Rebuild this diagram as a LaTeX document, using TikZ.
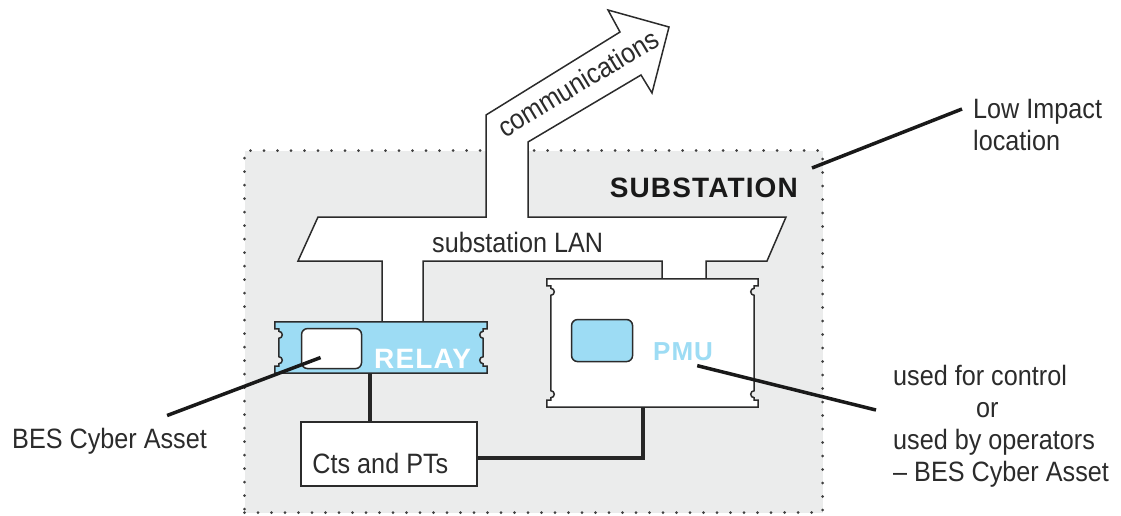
\documentclass[tikz,border=0pt]{standalone}
\usepackage{fontspec}
\setmainfont{Liberation Sans}[FakeStretch=0.9]
\newfontfamily\heavyfont{Liberation Sans}[LetterSpace=4]
\usepackage{tikz}

\definecolor{relayblue}{HTML}{9DDCF4}
\definecolor{subgray}{HTML}{EBECEC}
\definecolor{inkgray}{HTML}{2B2B2B}
\newcommand\lblsize{\fontsize{28}{32}\selectfont}

% notched card outline drawn round an (empty) node
\newcommand\notchcard[2]{%
  \draw[cardline, fill=#2]
    (#1.north west) -- (#1.north east)
    -- ([yshift=-7pt]#1.north east) -- ([shift={(-4pt,-7pt)}]#1.north east)
    -- ([shift={(-4pt,-9.5pt)}]#1.north east)
    arc[start angle=90, end angle=270, radius=3.5pt]
    -- ([shift={(-4pt,16.5pt)}]#1.south east)
    arc[start angle=90, end angle=270, radius=3.5pt]
    -- ([shift={(-4pt,7pt)}]#1.south east) -- ([yshift=7pt]#1.south east)
    -- (#1.south east) -- (#1.south west)
    -- ([yshift=7pt]#1.south west) -- ([shift={(4pt,7pt)}]#1.south west)
    -- ([shift={(4pt,9.5pt)}]#1.south west)
    arc[start angle=-90, end angle=90, radius=3.5pt]
    -- ([shift={(4pt,-16.5pt)}]#1.north west)
    arc[start angle=-90, end angle=90, radius=3.5pt]
    -- ([shift={(4pt,-7pt)}]#1.north west) -- ([yshift=-7pt]#1.north west)
    -- cycle;}

\begin{document}
\begin{tikzpicture}[x=1pt,y=-1pt,
    lbl/.style={inner sep=0pt, text=inkgray, font=\lblsize},
    cardbox/.style={rectangle, inner sep=0pt},
    cardline/.style={draw=inkgray, line width=1.5pt},
    window/.style={draw=inkgray, line width=1.5pt, rounded corners=6pt, inner sep=0pt},
    wire/.style={line width=4pt, draw=black!85},
    leader/.style={line width=3.5pt, draw=black!90}]
    \useasboundingbox (0,0) rectangle (1121,515);

    \node[fill=subgray, draw=black!75, line width=3pt, line cap=round,
          dash pattern=on 0pt off 13.5pt, inner sep=0pt,
          minimum width=578pt, minimum height=362pt, anchor=north west] (sub) at (243,149) {};
    \node[inner sep=0pt, anchor=base east, text=black!90, font=\heavyfont\bfseries\fontsize{28}{32}\selectfont]
          (subname) at ([shift={(-26pt,-48pt)}]sub.north east) {SUBSTATION};

    % communications arrow and substation LAN
    \draw[cardline, fill=white, line join=miter]
        (486,115) -- (620,32) -- (608,10) -- (669,27) -- (652,93) -- (641,75)
        -- (528,142) -- (528,217) -- (786,217) -- (767,261) -- (706,261) -- (706,281)
        -- (662,281) -- (662,261) -- (423,261) -- (423,324) -- (382,324) -- (382,261)
        -- (298,261) -- (318,217) -- (486,217) -- cycle;
    \node[lbl, rotate=31] (comm) at (578,83) {communications};
    \node[lbl, anchor=base west] (lan) at (432,252) {substation LAN};

    \node[cardbox, minimum width=212pt, minimum height=51pt] (relay) at (381,347.5) {};
    \notchcard{relay}{relayblue}
    \node[window, fill=white, minimum width=60pt, minimum height=40pt, anchor=north west]
          (relaywin) at ([shift={(26pt,-6pt)}]relay.north west) {};
    \node[inner sep=0pt, anchor=base east, text=white, font=\heavyfont\bfseries\fontsize{28}{32}\selectfont]
          (relaytxt) at ([shift={(-16pt,5pt)}]relay.south east) {RELAY};

    \node[cardbox, minimum width=211pt, minimum height=128pt] (pmu) at (652.5,343) {};
    \notchcard{pmu}{white}
    \node[window, fill=relayblue, minimum width=61pt, minimum height=42pt, anchor=north west]
          (pmuwin) at ([shift={(24pt,-40pt)}]pmu.north west) {};
    \node[inner sep=0pt, anchor=base east, text=relayblue, font=\heavyfont\bfseries\fontsize{26}{30}\selectfont]
          (pmutxt) at ([shift={(-45pt,47pt)}]pmu.south east) {PMU};

    \node[draw=inkgray, line width=1.5pt, fill=white, inner sep=0pt,
          minimum width=176pt, minimum height=64pt] (ct) at (389,454) {};
    \node[lbl, anchor=base west] (cttxt) at ([shift={(12pt,13pt)}]ct.south west) {Cts and PTs};

    \draw[wire] ([xshift=-11pt]relay.south) -- ([xshift=-11pt]relay.south |- ct.north);
    \draw[wire] ([xshift=-9.5pt]pmu.south) |- ([yshift=-4pt]ct.east);

    % labels and leaders
    \node[lbl, anchor=base west] (bes) at (12,448) {BES Cyber Asset};
    \node[lbl, anchor=base west, align=left] (lowimp) at (973,150) {Low Impact\\location};
    \node[lbl, anchor=base west, align=left] (use) at (893,481)
          {used for control\\\hspace*{83pt}or\\used by operators\\– BES Cyber Asset};

    \draw[leader] ([shift={(-40pt,12pt)}]bes.north east) -- ([shift={(-11pt,-9pt)}]relaywin.center);
    \draw[leader] ([shift={(-11pt,41pt)}]lowimp.base west) -- ([shift={(-12pt,-19pt)}]sub.north east);
    \draw[leader] ([shift={(-17pt,71pt)}]use.base west) -- ([shift={(-16pt,-5pt)}]pmutxt.south east);
\end{tikzpicture}
\end{document}
